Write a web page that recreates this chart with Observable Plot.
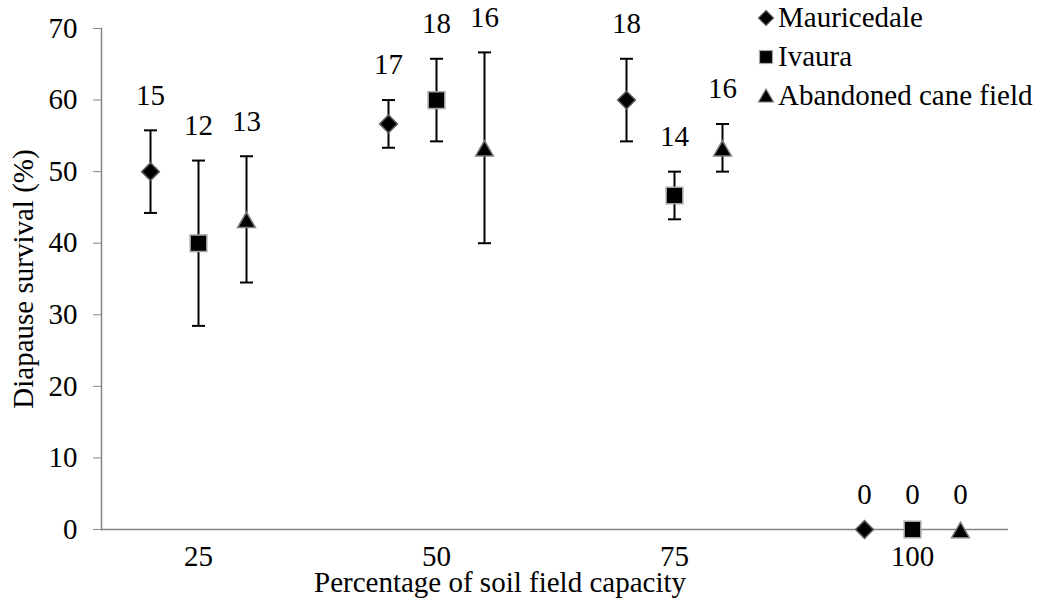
<!DOCTYPE html>
<html><head><meta charset="utf-8">
<script src="https://cdn.jsdelivr.net/npm/d3@7"></script>
<script src="https://cdn.jsdelivr.net/npm/@observablehq/plot@0.6"></script>
<style>
body{margin:0;background:#fff;}
#wrap{position:relative;width:1041px;height:607px;font-family:"Liberation Serif","Times New Roman",serif;}
#legend{position:absolute;left:756px;top:-2px;font-size:29px;color:#000;}
.row{height:39px;display:flex;align-items:center;white-space:nowrap;}
.row svg{width:20px;height:20px;margin-right:2px;flex:none;}
</style></head><body><div id="wrap"><div id="legend"></div></div>
<script>
const categories = ["25", "50", "75", "100"];
const seriesNames = ["Mauricedale", "Ivaura", "Abandoned cane field"];
const mauricedaleMean = [50, 56.67, 60, 0];
const mauricedaleSE = [5.77, 3.33, 5.77, 0];
const mauricedaleN = [15, 17, 18, 0];
const ivauraMean = [40, 60, 46.67, 0];
const ivauraSE = [11.55, 5.77, 3.33, 0];
const ivauraN = [12, 18, 14, 0];
const caneMean = [43.33, 53.33, 53.33, 0];
const caneSE = [8.82, 13.33, 3.33, 0];
const caneN = [13, 16, 16, 0];
const yTicks = [0, 10, 20, 30, 40, 50, 60, 70];
const xTitle = "Percentage of soil field capacity";
const yTitle = "Diapause survival (%)";

const seriesData = [
  {name: seriesNames[0], mean: mauricedaleMean, se: mauricedaleSE, n: mauricedaleN},
  {name: seriesNames[1], mean: ivauraMean, se: ivauraSE, n: ivauraN},
  {name: seriesNames[2], mean: caneMean, se: caneSE, n: caneN}
];
const styles = {
  "Mauricedale": {symbol: "diamond2", r: 8, stroke: "#5a5a5a", dx: -48, dy: 0},
  "Ivaura": {symbol: "square", r: 9.4, stroke: "#a6a6a6", dx: 0, dy: 0},
  "Abandoned cane field": {symbol: "triangle", r: 6.6, stroke: "#7f7f7f", dx: 48, dy: 3}
};
const cap = {draw(ctx) { ctx.moveTo(-6.5, 0); ctx.lineTo(6.5, 0); }};

const marks = [
  Plot.ruleY([0], {stroke: "#868686", strokeWidth: 1.5}),
  Plot.frame({anchor: "left", stroke: "#868686", strokeWidth: 1.5}),
  Plot.axisY({ticks: yTicks, tickSize: 8, tickPadding: 16, stroke: "#868686", fill: "black", fontSize: 29, label: null}),
  Plot.axisX({tickSize: 0, tickPadding: 16, fill: "black", fontSize: 29, label: null}),
  Plot.text([xTitle], {text: d => d, frameAnchor: "bottom", lineAnchor: "middle", textAnchor: "middle", dx: -55, dy: 53, fontSize: 29, fill: "black"}),
  Plot.text([yTitle], {text: d => d, frameAnchor: "left", lineAnchor: "middle", textAnchor: "middle", dx: -78, rotate: -90, fontSize: 29, fill: "black"})
];

for (const s of seriesData) {
  const st = styles[s.name];
  const rows = categories.map((c, i) => ({cat: c, mean: s.mean[i], lo: s.mean[i] - s.se[i], hi: s.mean[i] + s.se[i], se: s.se[i], n: s.n[i]}));
  const withErr = rows.filter(d => d.se > 0);
  marks.push(
    Plot.ruleX(withErr, {x: "cat", y1: "lo", y2: "hi", dx: st.dx, stroke: "black", strokeWidth: 2}),
    Plot.dot(withErr, {x: "cat", y: "hi", dx: st.dx, symbol: cap, r: 5, stroke: "black", strokeWidth: 2, fill: "none"}),
    Plot.dot(withErr, {x: "cat", y: "lo", dx: st.dx, symbol: cap, r: 5, stroke: "black", strokeWidth: 2, fill: "none"}),
    Plot.dot(rows, {x: "cat", y: "mean", dx: st.dx, dy: st.dy, symbol: st.symbol, r: st.r, fill: "black", stroke: st.stroke, strokeWidth: 1.5}),
    Plot.text(rows, {x: "cat", y: "hi", text: d => String(d.n), dx: st.dx, dy: -35, fontSize: 29, fill: "black"})
  );
}

const chart = Plot.plot({
  width: 1041,
  height: 607,
  marginLeft: 101,
  marginRight: 33,
  marginTop: 28,
  marginBottom: 78,
  style: {fontFamily: "'Liberation Serif', 'Times New Roman', serif", fontSize: "29px", color: "black", background: "white"},
  x: {type: "point", domain: categories, padding: 0.4},
  y: {domain: [0, 70]},
  marks
});
document.getElementById("wrap").prepend(chart);

const legendSymbols = {
  "Mauricedale": '<path d="M10,2.5 L17.5,10 L10,17.5 L2.5,10Z" fill="black" stroke="#5a5a5a" stroke-width="1.2"/>',
  "Ivaura": '<rect x="3.5" y="3.5" width="13" height="13" fill="black" stroke="#a6a6a6" stroke-width="1.2"/>',
  "Abandoned cane field": '<path d="M10,3 L17.5,16 L2.5,16Z" fill="black" stroke="#7f7f7f" stroke-width="1.2"/>'
};
const legend = document.getElementById("legend");
for (const name of seriesNames) {
  const row = document.createElement("div");
  row.className = "row";
  row.innerHTML = `<svg viewBox="0 0 20 20">${legendSymbols[name]}</svg><span>${name}</span>`;
  legend.appendChild(row);
}
</script></body></html>
